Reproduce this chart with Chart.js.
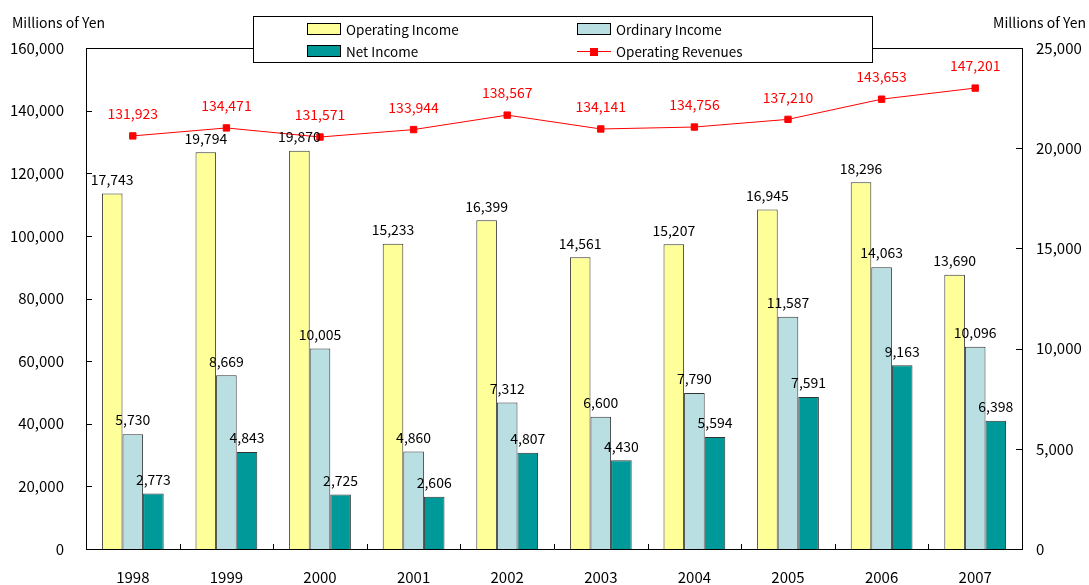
<!DOCTYPE html>
<html lang="en">
<head>
<meta charset="UTF-8">
<title>Operating Results 1998-2007</title>
<script src="https://cdn.jsdelivr.net/npm/chart.js"></script>
<style>
  html, body { margin: 0; padding: 0; background: #fff; }
</style>
</head>
<body>
<canvas id="grafico" width="1089" height="585"></canvas>
<script>
  // datos
  const years = ['1998', '1999', '2000', '2001', '2002', '2003', '2004', '2005', '2006', '2007'];
  const operatingIncome = [17743, 19794, 19870, 15233, 16399, 14561, 15207, 16945, 18296, 13690];
  const ordinaryIncome = [5730, 8669, 10005, 4860, 7312, 6600, 7790, 11587, 14063, 10096];
  const netIncome = [2773, 4843, 2725, 2606, 4807, 4430, 5594, 7591, 9163, 6398];
  const operatingRevenues = [131923, 134471, 131571, 133944, 138567, 134141, 134756, 137210, 143653, 147201];
  const leftTicks = [0, 20000, 40000, 60000, 80000, 100000, 120000, 140000, 160000];
  const rightTicks = [0, 5000, 10000, 15000, 20000, 25000];
  const unitLabel = 'Millions of Yen';

  const FONT = "'Noto Sans CJK JP', 'DejaVu Sans', sans-serif";
  const fmt = v => v.toLocaleString('en-US');

  Chart.defaults.font.family = FONT;
  Chart.defaults.color = '#000';

  // ticks hacia dentro, borde superior y titulos de unidades
  const frame = {
    id: 'frame',
    afterDraw(chart) {
      const { ctx, chartArea: a, scales: { x, y, y1 } } = chart;
      ctx.save();
      ctx.strokeStyle = '#000';
      ctx.lineWidth = 1;
      ctx.beginPath();
      ctx.moveTo(a.left, a.top + 0.5);
      ctx.lineTo(a.right, a.top + 0.5);
      y.ticks.forEach(t => {
        const p = Math.round(y.getPixelForValue(t.value)) + 0.5;
        ctx.moveTo(a.left, p); ctx.lineTo(a.left + 6, p);
      });
      y1.ticks.forEach(t => {
        const p = Math.round(y1.getPixelForValue(t.value)) + 0.5;
        ctx.moveTo(a.right - 6, p); ctx.lineTo(a.right, p);
      });
      for (let i = 1; i < years.length; i++) {
        const p = Math.round((x.getPixelForValue(i - 1) + x.getPixelForValue(i)) / 2) + 0.5;
        ctx.moveTo(p, a.bottom); ctx.lineTo(p, a.bottom - 5);
      }
      ctx.stroke();

      ctx.fillStyle = '#000';
      ctx.font = '14px ' + FONT;
      ctx.textBaseline = 'middle';
      ctx.textAlign = 'left';
      ctx.fillText(unitLabel, 12, 23);
      ctx.textAlign = 'right';
      ctx.fillText(unitLabel, 1086, 23);
      ctx.restore();
    }
  };

  // etiquetas de valores
  const valueLabels = {
    id: 'valueLabels',
    afterDatasetsDraw(chart) {
      const { ctx } = chart;
      ctx.save();
      ctx.textAlign = 'center';
      ctx.textBaseline = 'middle';
      chart.data.datasets.forEach((ds, di) => {
        const meta = chart.getDatasetMeta(di);
        const isLine = ds.type === 'line';
        ctx.font = '14px ' + FONT;
        ctx.fillStyle = isLine ? '#ff0000' : '#000';
        meta.data.forEach((el, i) => {
          ctx.fillText(fmt(ds.data[i]), el.x, el.y - (isLine ? 22 : 14));
        });
      });
      ctx.restore();
    }
  };

  // leyenda en dos columnas sobre el borde superior
  const boxLegend = {
    id: 'boxLegend',
    afterDraw(chart) {
      const { ctx } = chart;
      const ds = chart.data.datasets;
      const byLabel = l => ds.find(d => d.label === l);
      const items = [
        { d: byLabel('Operating Income'), x: 307, y: 29 },
        { d: byLabel('Ordinary Income'), x: 577, y: 29 },
        { d: byLabel('Net Income'), x: 307, y: 51 },
        { d: byLabel('Operating Revenues'), x: 577, y: 51 }
      ];
      ctx.save();
      ctx.fillStyle = '#fff';
      ctx.fillRect(253, 16, 619, 46);
      ctx.strokeStyle = '#000';
      ctx.lineWidth = 1;
      ctx.strokeRect(253.5, 16.5, 619, 46);
      ctx.font = '13.5px ' + FONT;
      ctx.textAlign = 'left';
      ctx.textBaseline = 'middle';
      items.forEach(it => {
        if (it.d.type === 'line') {
          ctx.strokeStyle = it.d.borderColor;
          ctx.beginPath();
          ctx.moveTo(it.x, it.y + 0.5); ctx.lineTo(it.x + 34, it.y + 0.5);
          ctx.stroke();
          ctx.fillStyle = it.d.pointBackgroundColor;
          ctx.fillRect(it.x + 13, it.y - 3, 8, 8);
        } else {
          ctx.fillStyle = it.d.backgroundColor;
          ctx.fillRect(it.x, it.y - 6, 34, 12);
          ctx.strokeStyle = '#000';
          ctx.strokeRect(it.x + 0.5, it.y - 5.5, 33, 11);
        }
        ctx.fillStyle = '#000';
        ctx.fillText(it.d.label, it.x + 39, it.y + 1);
      });
      ctx.restore();
    }
  };

  const barStyle = {
    type: 'bar',
    yAxisID: 'y1',
    borderColor: '#333',
    borderWidth: 1,
    categoryPercentage: 0.66,
    barPercentage: 1,
    order: 1
  };

  new Chart(document.getElementById('grafico'), {
    data: {
      labels: years,
      datasets: [
        {
          type: 'line',
          label: 'Operating Revenues',
          data: operatingRevenues,
          yAxisID: 'y',
          borderColor: '#ff0000',
          borderWidth: 1,
          pointStyle: 'rect',
          pointRadius: 4.5,
          pointBackgroundColor: '#ff0000',
          pointBorderColor: '#ff0000',
          order: 0
        },
        { ...barStyle, label: 'Operating Income', data: operatingIncome, backgroundColor: '#ffff99' },
        { ...barStyle, label: 'Ordinary Income', data: ordinaryIncome, backgroundColor: '#b9dfe3' },
        { ...barStyle, label: 'Net Income', data: netIncome, backgroundColor: '#009999' }
      ]
    },
    options: {
      responsive: false,
      animation: false,
      layout: { padding: { top: 48, left: 0, right: 0, bottom: 0 } },
      plugins: { legend: { display: false }, tooltip: { enabled: false } },
      scales: {
        x: {
          offset: true,
          grid: { display: false, drawTicks: false },
          border: { display: true, color: '#000', width: 1 },
          ticks: { padding: 19, font: { size: 15 } },
          afterFit: s => { s.height = 36; }
        },
        y: {
          position: 'left',
          min: 0,
          max: 160000,
          afterBuildTicks: s => { s.ticks = leftTicks.map(v => ({ value: v })); },
          grid: { display: false, drawTicks: false },
          border: { display: true, color: '#000', width: 1 },
          ticks: { padding: 22, font: { size: 15 }, callback: v => fmt(v) },
          afterFit: s => { s.width = 86; }
        },
        y1: {
          position: 'right',
          min: 0,
          max: 25000,
          afterBuildTicks: s => { s.ticks = rightTicks.map(v => ({ value: v })); },
          grid: { display: false, drawTicks: false },
          border: { display: true, color: '#000', width: 1 },
          ticks: { padding: 14, font: { size: 15 }, callback: v => fmt(v) },
          afterFit: s => { s.width = 67; }
        }
      }
    },
    plugins: [valueLabels, frame, boxLegend]
  });
</script>
</body>
</html>
